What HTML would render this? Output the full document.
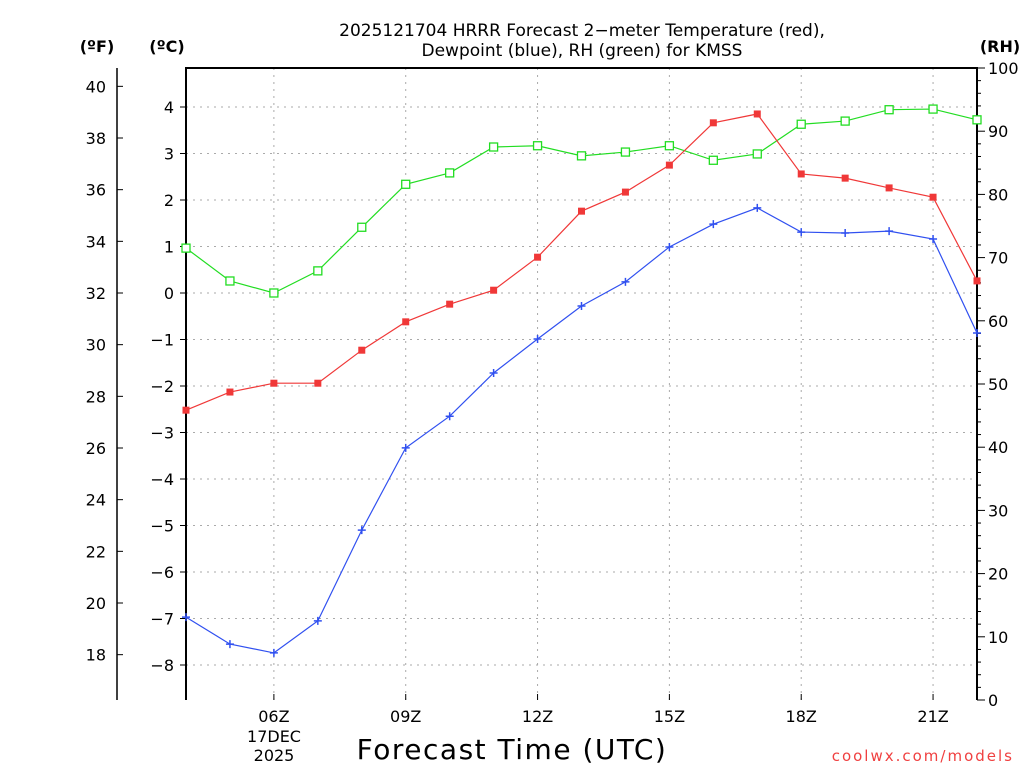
<!DOCTYPE html>
<html><head><meta charset="utf-8"><style>
body{margin:0;background:#fff;width:1024px;height:768px;overflow:hidden}
svg{font-family:"DejaVu Sans","Liberation Sans",sans-serif}
</style></head><body>
<svg id="c" width="1024" height="768" viewBox="0 0 1024 768" xmlns="http://www.w3.org/2000/svg">
<text x="582" y="36" text-anchor="middle" font-size="17">2025121704 HRRR Forecast 2−meter Temperature (red),</text>
<text x="582" y="56" text-anchor="middle" font-size="17">Dewpoint (blue), RH (green) for KMSS</text>
<text x="97" y="52" text-anchor="middle" font-size="16" font-weight="bold">(ºF)</text>
<text x="167" y="52" text-anchor="middle" font-size="16" font-weight="bold">(ºC)</text>
<text x="1000" y="52" text-anchor="middle" font-size="16" font-weight="bold">(RH)</text>
<text x="512" y="759" text-anchor="middle" font-size="28" letter-spacing="1.5">Forecast Time (UTC)</text>
<text x="274" y="742" text-anchor="middle" font-size="16">17DEC</text>
<text x="274" y="761" text-anchor="middle" font-size="16">2025</text>
<text x="1014" y="761" text-anchor="end" font-size="15" letter-spacing="2" fill="#f04040">coolwx.com/models</text>
<g id="g"></g>
</svg>
<script>
const hours=[4,5,6,7,8,9,10,11,12,13,14,15,16,17,18,19,20,21,22];
const tempC=[-2.52,-2.13,-1.94,-1.94,-1.23,-0.62,-0.24,0.06,0.77,1.76,2.17,2.75,3.66,3.85,2.56,2.47,2.26,2.06,0.26];
const dewC=[-6.97,-7.55,-7.74,-7.05,-5.10,-3.33,-2.65,-1.72,-0.99,-0.28,0.24,0.99,1.48,1.83,1.31,1.29,1.33,1.16,-0.86];
const rh=[71.5,66.3,64.4,67.9,74.8,81.6,83.4,87.5,87.7,86.1,86.7,87.7,85.4,86.4,91.1,91.6,93.4,93.5,91.8];
const cTicks=[4,3,2,1,0,-1,-2,-3,-4,-5,-6,-7,-8];
const fTicks=[40,38,36,34,32,30,28,26,24,22,20,18];
const rhTicks=[0,10,20,30,40,50,60,70,80,90,100];
const xTicks=[6,9,12,15,18,21];
const L=186,R=977,T=68,B=700;
const x=h=>L+(h-4)*(R-L)/18;
const yC=c=>293-c*46.5;
const yF=f=>yC((f-32)/1.8);
const yR=v=>B-v*(B-T)/100;
const g=document.getElementById('g');const NS='http://www.w3.org/2000/svg';
function el(t,a,p){const e=document.createElementNS(NS,t);for(const k in a)e.setAttribute(k,a[k]);(p||g).appendChild(e);return e;}
cTicks.forEach(c=>{const e=el('line',{x1:L,x2:R,y1:yC(c),y2:yC(c),stroke:'#aaa','stroke-dasharray':'2,5'});

});
xTicks.forEach(h=>{const e=el('line',{x1:x(h),x2:x(h),y1:T,y2:B,stroke:'#aaa','stroke-dasharray':'2,5'});


const t=el('text',{x:x(h),y:722,'text-anchor':'middle','font-size':16});t.textContent=String(h).padStart(2,'0')+'Z';


el('line',{x1:x(h),x2:x(h),y1:B,y2:B-6,stroke:'#000'});});
cTicks.forEach(c=>{el('line',{x1:L-6,x2:L,y1:yC(c),y2:yC(c),stroke:'#000'});
const t=el('text',{x:L-12,y:yC(c)+6,'text-anchor':'end','font-size':16});t.textContent=c<0?'−'+(-c):c;

});
el('line',{x1:117,x2:117,y1:T,y2:B,stroke:'#000','stroke-width':1.5});
fTicks.forEach(f=>{el('line',{x1:117,x2:123,y1:yF(f),y2:yF(f),stroke:'#000'});
const t=el('text',{x:106,y:yF(f)+6,'text-anchor':'end','font-size':16});t.textContent=f;

});
for(let v=0;v<=100;v+=2){const maj=v%10==0;el('line',{x1:R,x2:R+(maj?8:4),y1:yR(v),y2:yR(v),stroke:'#000'});}
rhTicks.forEach(v=>{const t=el('text',{x:988,y:yR(v)+6,'font-size':16});t.textContent=v;

});
const fr=el('path',{d:`M${L},${B}V${T}H${R}V${B}`,fill:'none',stroke:'#000','stroke-width':2});


function series(vals,yf,col,name,mk){
 const pts=vals.map((v,i)=>[x(hours[i]),yf(v)]);
 const p=el('polyline',{points:pts.map(q=>q.join(',')).join(' '),fill:'none',stroke:col,'stroke-width':1.2});
 
 
 pts.forEach(([a,b])=>{let m;
  if(mk=='fill')m=el('rect',{x:a-3.5,y:b-3.5,width:7,height:7,fill:col});
  else if(mk=='open')m=el('rect',{x:a-4,y:b-4,width:8,height:8,fill:'#fff',stroke:col,'stroke-width':1.3});
  else m=el('path',{d:`M${a-4},${b}H${a+4}M${a},${b-4}V${b+4}`,stroke:col,'stroke-width':1.5});
  
  });
}
series(rh,yR,'#22dd22','rh','open');
series(tempC,yC,'#f03838','temperature','fill');
series(dewC,yC,'#3050f0','dewpoint','plus');
</script>
</body></html>
